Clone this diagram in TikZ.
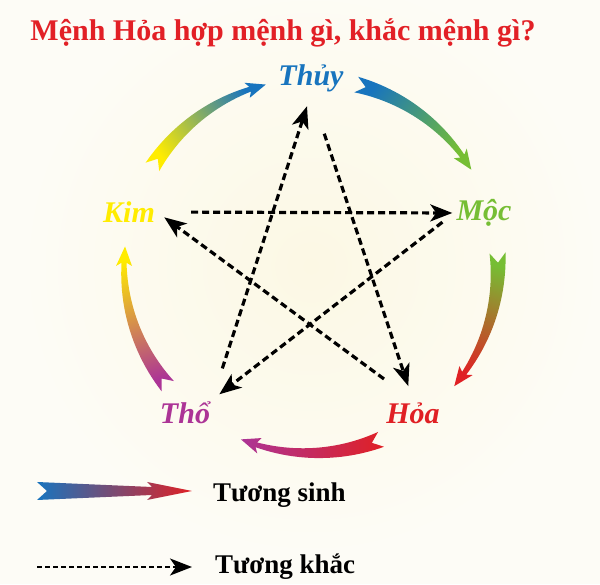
\documentclass[tikz,border=0pt]{standalone}
\usepackage{fontspec}
\setmainfont{Liberation Serif}
\usetikzlibrary{arrows.meta,positioning}

\definecolor{nen}{RGB}{253,252,246}
\definecolor{nensang}{RGB}{252,248,228}
\definecolor{tieude}{RGB}{226,32,38}
\definecolor{thuyc}{RGB}{24,116,190}
\definecolor{mocc}{RGB}{118,190,52}
\definecolor{kimc}{RGB}{255,236,0}
\definecolor{thoc}{RGB}{172,52,150}
\definecolor{hoac}{RGB}{224,32,36}

\tikzstyle{hanh} = [font=\fontsize{30}{33}\selectfont\bfseries\itshape, inner sep=2pt]
\tikzstyle{khac} = [line width=3.2pt, dash pattern=on 7pt off 4pt, -{Stealth[length=22pt,width=17pt,inset=6pt]}]
\tikzstyle{chu} = [font=\fontsize{27}{30}\selectfont\bfseries, anchor=west, inner sep=0pt]

% mui ten tuong sinh: goc duoi, goc mui, mau duoi, mau mui
\newcommand{\sinharc}[4]{%
  \pgfmathsetmacro\coarc{#2+5}
  \pgfmathsetmacro\ngarc{#2+6}
  \pgfmathsetmacro\khiarc{#1-3}
  \pgfmathsetmacro\gocshade{(#1+#2)/2-180}
  \shade[bottom color=#3, top color=#4, shading angle=\gocshade, shift={(311,318)}]
    (#1:195) -- (\khiarc:187) -- (#1:179)
    -- plot[domain=#1:\coarc, samples=25] (\x:{179+5.5*(\x-(#1))/(\coarc-(#1))})
    -- (\ngarc:179) -- (#2:187) -- (\ngarc:195)
    -- plot[domain=\coarc:#1, samples=25] (\x:{195-5.5*(\x-(#1))/(\coarc-(#1))})
    -- cycle;
}

\begin{document}
\begin{tikzpicture}[x=1pt, y=1pt]
  \useasboundingbox (0,0) rectangle (600,584);
  \fill[nen] (0,0) rectangle (600,584);
  \shade[inner color=nensang, outer color=nen] (311,318) circle (290);

  \node[font=\fontsize{30}{34}\selectfont\bfseries, text=tieude] (tieu) at (283,551) {Mệnh Hỏa hợp mệnh gì, khắc mệnh gì?};

  \node[hanh, text=thuyc] (thuy) at (311,506) {Thủy};
  \node[hanh, text=mocc] (moc) at (484,371) {Mộc};
  \node[hanh, text=kimc] (kim) at (129,372) {Kim};
  \node[hanh, text=thoc] (tho) at (185,171) {Thổ};
  \node[hanh, text=hoac] (hoa) at (413,171) {Hỏa};

  % tuong sinh
  \sinharc{148}{104}{kimc}{thuyc}
  \sinharc{76}{31}{thuyc}{mocc}
  \sinharc{4}{-40}{mocc}{hoac}
  \sinharc{-68}{-112}{hoac}{thoc}
  \sinharc{-140}{-186}{thoc}{kimc}

  % tuong khac
  \draw[khac, shorten <=34pt, shorten >=2pt] (kim.east) -- (moc.west);
  \draw[khac, shorten <=15pt, shorten >=9pt] (moc.west) -- (tho.north east);
  \draw[khac, shorten <=33pt, shorten >=13pt] (tho.north east) -- (thuy.south);
  \draw[khac, shorten <=42pt, shorten >=15pt] (thuy.south) -- (hoa.north);
  \draw[khac, shorten <=36pt, shorten >=9pt] (hoa.north) -- (kim.east);

  % chu thich
  \shade[left color=thuyc, right color=hoac] (37,102) -- (47,93) -- (37,84) -- (152,89) -- (147,84)
    -- (192,93) -- (147,102) -- (152,97) -- cycle;
  \node[chu] (sinh) at (213,89) {Tương sinh};
  \coordinate (k1) at (37,17);
  \coordinate (k2) at (192,17);
  \draw[khac, line width=2.4pt, dash pattern=on 5pt off 3pt] (k1) -- (k2);
  \node[chu] (khacchu) at (215,17) {Tương khắc};
\end{tikzpicture}
\end{document}
